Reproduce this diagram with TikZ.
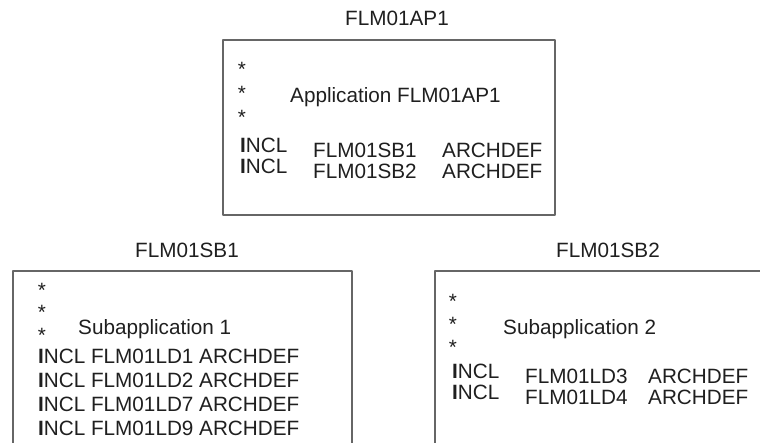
\documentclass[tikz,border=0pt]{standalone}
\usepackage{fontspec}
\setmainfont{Liberation Sans}
\tikzstyle{every node}=[font=\fontsize{20.7}{24}\selectfont,text=black!88,inner sep=0pt]
\tikzstyle{frame}=[draw=black!60,line width=1.1pt,line cap=round,line join=round]
\tikzstyle{txt}=[anchor=base west]
\tikzstyle{star}=[anchor=base]
\tikzstyle{title}=[anchor=base]
\newcommand\incl{{\bfseries I}NCL}

\begin{document}
\begin{tikzpicture}[x=1pt,y=-1pt]
% Application and its two subapplications
	\useasboundingbox (0,0) rectangle (760,442);
	\newcommand\rowgap{24} %gap between the INCL lines of subapplication 1
	%% top box: application FLM01AP1
	\node[title] (APtitle) at (397,25) {FLM01AP1};
	\coordinate (APnw) at (223,40);
	\coordinate (APse) at (555,215);
	\draw[frame] (APnw) rectangle (APse);
	\node[star] (APs1) at (242,76) {*};
	\node[star] (APs2) at (242,100) {*};
	\node[star] (APs3) at (242,124) {*};
	\node[txt] (APname) at (290,102) {Application FLM01AP1};
	\node[txt] (APi1) at (240,152) {\incl};
	\node[txt] (APi2) at (240,173) {\incl};
	\node[txt] (APsb1) at (313,157) {FLM01SB1};
	\node[txt] (APsb2) at (313,178) {FLM01SB2};
	\node[txt] (APa1) at (442,157) {ARCHDEF};
	\node[txt] (APa2) at (442,178) {ARCHDEF};
	%% bottom left box: FLM01SB1, runs off the bottom
	\node[title] (SBatitle) at (187,257) {FLM01SB1};
	\coordinate (SBanw) at (13,271);
	\coordinate (SBase) at (352,470);
	\draw[frame] (SBanw) rectangle (SBase);
	\node[star] (SBas1) at (42,297) {*};
	\node[star] (SBas2) at (42,319) {*};
	\node[star] (SBas3) at (42,342) {*};
	\node[txt] (SBaname) at (78,334) {Subapplication 1};
	\node[txt] (SBar1) at (38,363) {\incl{} FLM01LD1 ARCHDEF};
	\node[txt] (SBar2) at (38,363+\rowgap) {\incl{} FLM01LD2 ARCHDEF};
	\node[txt] (SBar3) at (38,363+2*\rowgap) {\incl{} FLM01LD7 ARCHDEF};
	\node[txt] (SBar4) at (38,363+3*\rowgap) {\incl{} FLM01LD9 ARCHDEF};
	%% bottom right box: FLM01SB2, runs off the right and bottom
	\node[title] (SBbtitle) at (608,257) {FLM01SB2};
	\coordinate (SBbnw) at (435,271);
	\coordinate (SBbse) at (790,470);
	\draw[frame] (SBbnw) rectangle (SBbse);
	\node[star] (SBbs1) at (453,308) {*};
	\node[star] (SBbs2) at (453,331) {*};
	\node[star] (SBbs3) at (453,354) {*};
	\node[txt] (SBbname) at (503,334) {Subapplication 2};
	\node[txt] (SBbi1) at (452,378) {\incl};
	\node[txt] (SBbi2) at (452,399) {\incl};
	\node[txt] (SBbld3) at (525,383) {FLM01LD3};
	\node[txt] (SBbld4) at (525,404) {FLM01LD4};
	\node[txt] (SBba1) at (648,383) {ARCHDEF};
	\node[txt] (SBba2) at (648,404) {ARCHDEF};
\end{tikzpicture}
\end{document}
